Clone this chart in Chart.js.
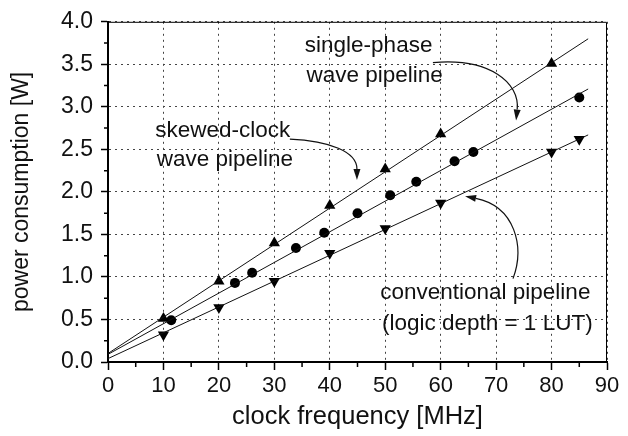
<!DOCTYPE html>
<html>
<head>
<meta charset="utf-8">
<script src="https://cdn.jsdelivr.net/npm/chart.js@4.4.1/dist/chart.umd.min.js"></script>
<style>
    html, body { margin: 0; padding: 0; background: #fff; }
    #wrap { width: 628px; height: 436px; }
</style>
</head>
<body>
<div id="wrap"><canvas id="powerChart" width="628" height="436"></canvas></div>
<script>
// values
const freqSingle = [10, 20, 30, 40, 50, 60, 80];
const powerSingle = [0.51, 0.95, 1.40, 1.84, 2.27, 2.68, 3.51];

const freqSkewed = [11.4, 22.9, 26, 33.9, 39, 45, 50.9, 55.6, 62.5, 65.9, 85];
const powerSkewed = [0.49, 0.93, 1.05, 1.34, 1.52, 1.75, 1.96, 2.12, 2.36, 2.47, 3.11];

const freqConv = [10, 20, 30, 40, 50, 60, 80, 85];
const powerConv = [0.32, 0.64, 0.95, 1.28, 1.57, 1.87, 2.47, 2.62];

// fitted lines (end points)
const fitFreq = [0, 86.6];
const fitSingle = [0.10, 3.80];
const fitSkewed = [0.09, 3.21];
const fitConv = [0.04, 2.67];

const xTicks = [0, 10, 20, 30, 40, 50, 60, 70, 80, 90];
const yTicks = [0.0, 0.5, 1.0, 1.5, 2.0, 2.5, 3.0, 3.5, 4.0];

// annotation labels: [text, x, y] in data units
const labels = [
    ['single-phase', 35.5, 3.72],
    ['wave pipeline', 35.8, 3.37],
    ['skewed-clock', 8.5, 2.72],
    ['wave pipeline', 8.8, 2.38],
    ['conventional pipeline', 49.1, 0.81],
    ['(logic depth = 1 LUT)', 49.4, 0.45]
];
// curved arrows: cubic bezier in data units, last point is the tip
const arrows = [
    [[58.6, 3.52], [68.9, 3.58], [74.3, 3.28], [73.6, 2.84]],
    [[32.8, 2.62], [40.0, 2.60], [44.9, 2.47], [44.9, 2.14]],
    [[73.05, 0.98], [75.2, 1.36], [73.4, 1.83], [64.4, 1.95]]
];

const FONT = '"Liberation Sans", Arial, Helvetica, sans-serif';
const toPts = (xs, ys) => xs.map((x, i) => ({ x: x, y: ys[i] }));

const extras = {
    id: 'extras',
    afterDatasetsDraw(chart) {
        const { ctx, chartArea: a, scales: { x, y } } = chart;
        ctx.save();

        // top and right frame
        ctx.strokeStyle = '#000';
        ctx.lineWidth = 1;
        ctx.beginPath();
        ctx.moveTo(a.left, a.top + 0.5);
        ctx.lineTo(a.right - 0.5, a.top + 0.5);
        ctx.lineTo(a.right - 0.5, a.bottom);
        ctx.stroke();

        // minor ticks
        ctx.lineWidth = 1.5;
        ctx.beginPath();
        for (let v = 5; v < 90; v += 10) {
            const px = x.getPixelForValue(v);
            ctx.moveTo(px, a.bottom);
            ctx.lineTo(px, a.bottom + 5);
        }
        for (let v = 0.25; v < 4; v += 0.5) {
            const py = y.getPixelForValue(v);
            ctx.moveTo(a.left, py);
            ctx.lineTo(a.left - 4, py);
        }
        ctx.stroke();

        // labels
        ctx.fillStyle = '#111';
        ctx.font = '22.5px ' + FONT;
        ctx.textAlign = 'left';
        ctx.textBaseline = 'middle';
        labels.forEach(([t, lx, ly]) => {
            ctx.fillText(t, x.getPixelForValue(lx), y.getPixelForValue(ly));
        });

        // arrows
        ctx.lineWidth = 1.2;
        ctx.strokeStyle = '#111';
        arrows.forEach(pts => {
            const p = pts.map(([vx, vy]) => [x.getPixelForValue(vx), y.getPixelForValue(vy)]);
            const tip = p[3];
            const dx = tip[0] - p[2][0];
            const dy = tip[1] - p[2][1];
            const len = Math.hypot(dx, dy);
            const ux = dx / len, uy = dy / len;
            const hl = 11, hw = 3.5;
            const base = [tip[0] - ux * hl, tip[1] - uy * hl];
            ctx.beginPath();
            ctx.moveTo(p[0][0], p[0][1]);
            ctx.bezierCurveTo(p[1][0], p[1][1], p[2][0], p[2][1], base[0], base[1]);
            ctx.stroke();
            ctx.beginPath();
            ctx.moveTo(tip[0], tip[1]);
            ctx.lineTo(base[0] - uy * hw, base[1] + ux * hw);
            ctx.lineTo(base[0] + uy * hw, base[1] - ux * hw);
            ctx.closePath();
            ctx.fill();
        });

        ctx.restore();
    }
};

const fitStyle = {
    showLine: true,
    borderColor: '#111',
    borderWidth: 1,
    pointRadius: 0,
    fill: false
};

new Chart(document.getElementById('powerChart'), {
    type: 'scatter',
    data: {
        datasets: [
            { label: 'fit single', data: toPts(fitFreq, fitSingle), ...fitStyle },
            { label: 'fit skewed', data: toPts(fitFreq, fitSkewed), ...fitStyle },
            { label: 'fit conv', data: toPts(fitFreq, fitConv), ...fitStyle },
            {
                label: 'single-phase wave pipeline',
                data: toPts(freqSingle, powerSingle),
                pointStyle: 'triangle',
                pointRadius: 6.5,
                backgroundColor: '#000',
                borderColor: '#000',
                borderWidth: 0
            },
            {
                label: 'skewed-clock wave pipeline',
                data: toPts(freqSkewed, powerSkewed),
                pointStyle: 'circle',
                pointRadius: 5,
                backgroundColor: '#000',
                borderColor: '#000',
                borderWidth: 0
            },
            {
                label: 'conventional pipeline',
                data: toPts(freqConv, powerConv),
                pointStyle: 'triangle',
                rotation: 180,
                pointRadius: 6.5,
                backgroundColor: '#000',
                borderColor: '#000',
                borderWidth: 0
            }
        ]
    },
    options: {
        responsive: false,
        animation: false,
        devicePixelRatio: 1,
        layout: { padding: { top: 18, right: 21, left: 0, bottom: 0 } },
        plugins: {
            legend: { display: false },
            tooltip: { enabled: false }
        },
        scales: {
            x: {
                type: 'linear',
                min: 0,
                max: 90,
                afterFit: scale => { scale.height = 74; },
                afterBuildTicks: scale => { scale.ticks = xTicks.map(v => ({ value: v })); },
                ticks: {
                    color: '#111',
                    font: { family: FONT, size: 22 },
                    padding: 3,
                    maxRotation: 0,
                    callback: v => String(v)
                },
                grid: {
                    color: '#444',
                    lineWidth: 1,
                    tickColor: '#000',
                    tickWidth: 1.5,
                    tickLength: 8,
                    tickBorderDash: []
                },
                border: { color: '#000', width: 2, dash: [2, 4] },
                title: {
                    display: true,
                    text: 'clock frequency [MHz]',
                    color: '#111',
                    font: { family: FONT, size: 25.5 },
                    padding: { top: 0, bottom: 4 }
                }
            },
            y: {
                type: 'linear',
                min: 0,
                max: 4,
                afterFit: scale => { scale.width = 108; },
                afterBuildTicks: scale => { scale.ticks = yTicks.map(v => ({ value: v })); },
                ticks: {
                    color: '#111',
                    font: { family: FONT, size: 23 },
                    padding: 8,
                    callback: v => Number(v).toFixed(1)
                },
                grid: {
                    color: '#444',
                    lineWidth: 1,
                    tickColor: '#000',
                    tickWidth: 1.5,
                    tickLength: 7,
                    tickBorderDash: []
                },
                border: { color: '#000', width: 2, dash: [2, 4] },
                title: {
                    display: true,
                    text: 'power consumption [W]',
                    color: '#111',
                    font: { family: FONT, size: 23 },
                    padding: { top: 8, bottom: 0 }
                }
            }
        }
    },
    plugins: [extras]
});
</script>
</body>
</html>
